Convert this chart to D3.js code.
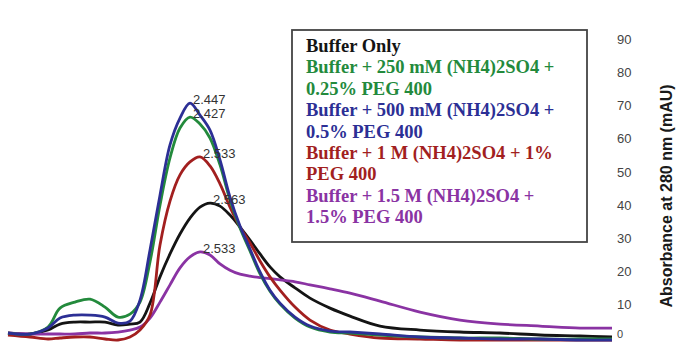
<!DOCTYPE html>
<html>
<head>
<meta charset="utf-8">
<script src="https://cdn.jsdelivr.net/npm/d3@7"></script>
<style>
  html, body { margin: 0; padding: 0; background: #fff; }
  svg { display: block; }
</style>
</head>
<body>
<svg id="chart" width="679" height="343"></svg>
<script>
// Elution volume (mL) grid shared by all traces
const volume = [1.5, 1.61, 1.70, 1.76, 1.835, 1.91, 1.985, 2.05, 2.11, 2.16, 2.21, 2.26, 2.31, 2.36, 2.41, 2.46, 2.51, 2.56, 2.61, 2.66, 2.71, 2.76, 2.81, 2.86, 2.935, 3.01, 3.11, 3.21, 3.36, 3.56, 3.76, 3.96, 4.16, 4.36, 4.52];

// Absorbance at 280 nm (mAU)
const bufferOnly = [1.5, 1.2, 2.4, 4.2, 4.8, 4.8, 4.8, 3.9, 4.2, 4.8, 10.5, 18.4, 25.3, 31.3, 36.1, 39.4, 40.6, 39.7, 37.0, 33.4, 29.5, 25.3, 21.4, 18.4, 15.1, 12.0, 9.0, 6.6, 3.6, 2.4, 1.8, 1.5, 0.9, 0.6, 0.3];
const mM250 = [1.5, 1.2, 3.3, 9.0, 10.8, 11.7, 9.3, 6.3, 7.2, 10.8, 22.9, 40.0, 54.2, 63.2, 66.5, 64.4, 60.2, 52.1, 41.5, 33.1, 26.2, 19.3, 14.1, 10.2, 6.0, 3.3, 1.8, 1.5, 0.9, 0.3, 0.0, 0.0, -0.3, -0.3, -0.3];
const mM500 = [1.5, 1.2, 3.0, 6.0, 6.9, 6.9, 6.3, 4.5, 5.1, 11.4, 26.5, 43.0, 58.1, 66.2, 70.7, 67.1, 62.6, 53.6, 42.4, 33.7, 26.8, 19.9, 14.4, 10.5, 6.3, 3.6, 2.1, 1.8, 1.2, 0.3, 0.0, -0.3, -0.3, -0.6, -0.6];
const M1 = [0.9, 0.3, -0.3, 0.0, 0.3, 0.3, -0.3, -0.6, 0.3, 2.4, 6.9, 28.0, 41.2, 49.1, 53.0, 54.5, 51.8, 46.4, 39.4, 33.4, 28.6, 23.2, 18.4, 14.4, 9.3, 5.4, 2.4, 1.2, 0.0, -0.3, -0.6, -0.6, -0.6, -0.6, -0.6];
const M15 = [1.5, 1.2, 1.2, 1.2, 1.2, 1.5, 1.5, 1.8, 2.4, 3.3, 6.0, 10.8, 16.0, 21.1, 24.4, 25.9, 25.0, 22.3, 20.4, 19.2, 18.6, 18.2, 17.9, 17.5, 16.9, 16.0, 14.8, 13.5, 11.1, 7.8, 5.4, 4.2, 3.6, 3.0, 3.0];

const seriesNames = ["Buffer Only", "Buffer + 250 mM (NH4)2SO4 + 0.25% PEG 400", "Buffer + 500 mM (NH4)2SO4 + 0.5% PEG 400", "Buffer + 1 M (NH4)2SO4 + 1% PEG 400", "Buffer + 1.5 M (NH4)2SO4 + 1.5% PEG 400"];
const seriesValues = [bufferOnly, mM250, mM500, M1, M15];
const seriesColors = ["#141414", "#238a3c", "#2c2f95", "#a21f1f", "#8a33a3"];
const peakLabels = ["2.563", "2.427", "2.447", "2.533", "2.533"];
const legendLines = [
  ["Buffer Only"],
  ["Buffer + 250 mM (NH4)2SO4 +", "0.25% PEG 400"],
  ["Buffer + 500 mM (NH4)2SO4 +", "0.5% PEG 400"],
  ["Buffer + 1 M (NH4)2SO4 + 1%", "PEG 400"],
  ["Buffer + 1.5 M (NH4)2SO4 +", "1.5% PEG 400"]
];
const yTicks = [0, 10, 20, 30, 40, 50, 60, 70, 80, 90];
const yTitle = "Absorbance at 280 nm (mAU)";

const svg = d3.select("#chart");
const x = d3.scaleLinear().domain([1.5, 4.52]).range([8, 612]);
const y = d3.scaleLinear().domain([0, 90]).range([338, 39]);

// Right-side y axis (labels only)
const yAxis = d3.axisRight(y).tickValues(yTicks).tickSize(0).tickPadding(0);
const gAxis = svg.append("g").attr("transform", "translate(617,0)").call(yAxis);
gAxis.select(".domain").remove();
gAxis.selectAll("text")
  .attr("font-family", "Liberation Sans, Arial, sans-serif")
  .attr("font-size", 13)
  .attr("fill", "#444");
// keep the bottom "0" inside the picture
gAxis.selectAll(".tick").filter(d => d === 0).select("text").attr("dy", "-0.05em").attr("font-size", 11);

svg.append("text")
  .attr("transform", "translate(672,196) rotate(-90)")
  .attr("text-anchor", "middle")
  .attr("font-family", "Liberation Sans, Arial, sans-serif")
  .attr("font-size", 16)
  .attr("font-weight", "bold")
  .attr("fill", "#1a1a1a")
  .text(yTitle);

// Traces
const line = d3.line()
  .x((d, i) => x(volume[i]))
  .y(d => y(d))
  .curve(d3.curveCatmullRom.alpha(0.5));

const drawOrder = [0, 4, 3, 1, 2];
drawOrder.forEach(k => {
  svg.append("path")
    .datum(seriesValues[k])
    .attr("fill", "none")
    .attr("stroke", seriesColors[k])
    .attr("stroke-width", 2.8)
    .attr("stroke-linejoin", "round")
    .attr("d", line);
});

// Peak labels
seriesValues.forEach((vals, k) => {
  const i = d3.maxIndex(vals);
  svg.append("text")
    .attr("x", x(volume[i]) + 3)
    .attr("y", y(vals[i]) + 1)
    .attr("font-family", "Liberation Sans, Arial, sans-serif")
    .attr("font-size", 13)
    .attr("fill", "#333")
    .text(peakLabels[k]);
});

// Legend
const lg = svg.append("g");
lg.append("rect")
  .attr("x", 292).attr("y", 30).attr("width", 295).attr("height", 212)
  .attr("fill", "#fff").attr("stroke", "#444").attr("stroke-width", 1.8);
let row = 0;
legendLines.forEach((lines, k) => {
  lines.forEach(t => {
    lg.append("text")
      .attr("x", 306)
      .attr("y", 52 + row * 21.4)
      .attr("font-family", "Liberation Serif, Times New Roman, serif")
      .attr("font-weight", "bold")
      .attr("font-size", 18.5)
      .attr("fill", seriesColors[k])
      .text(t);
    row++;
  });
});
</script>
</body>
</html>
